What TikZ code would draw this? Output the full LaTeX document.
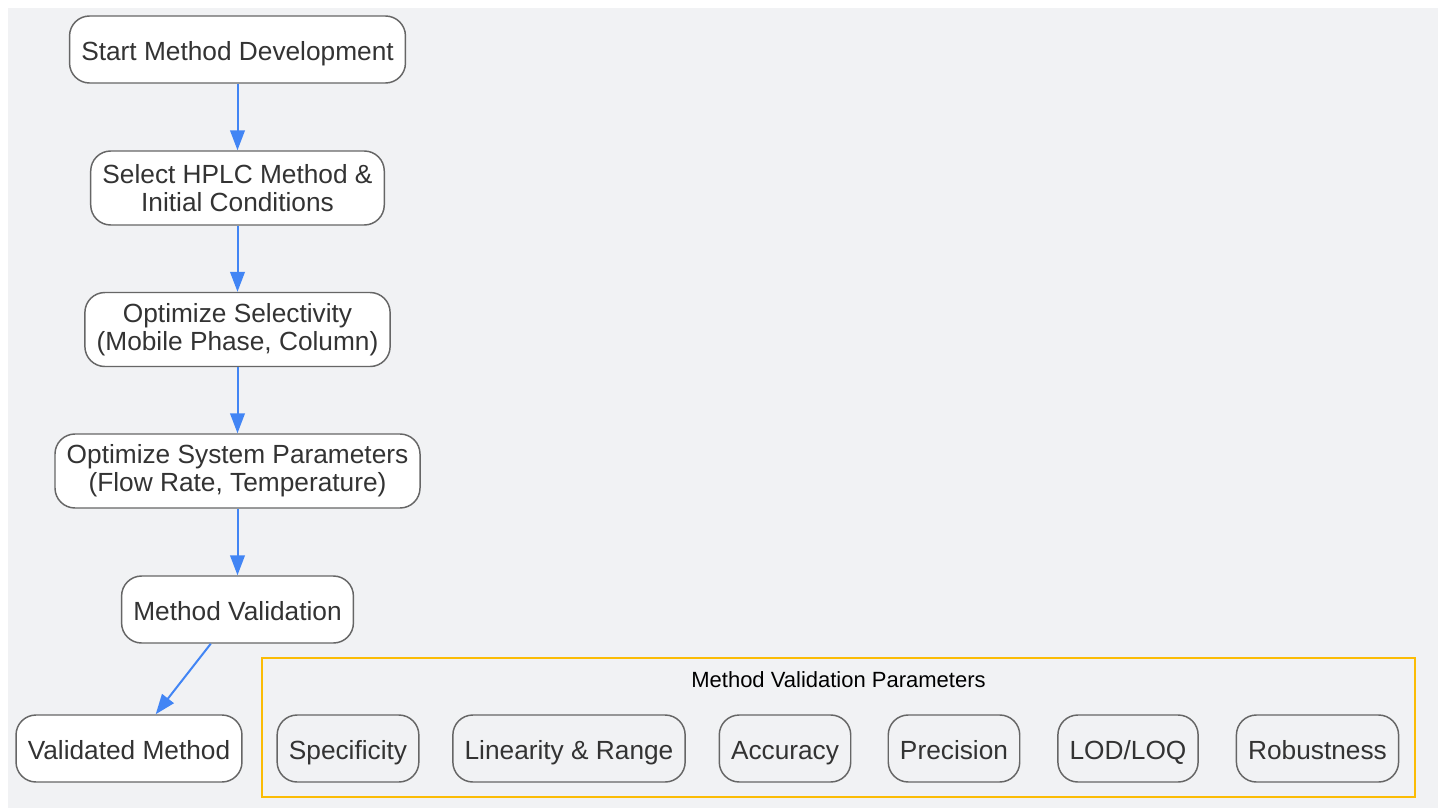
\documentclass[tikz,border=0pt]{standalone}
\usepackage{fontspec}
\setmainfont{Liberation Sans}
\usetikzlibrary{arrows.meta}
\definecolor{bgcol}{HTML}{F1F2F4}
\definecolor{edgecol}{HTML}{666666}
\definecolor{txtcol}{HTML}{333333}
\definecolor{arrcol}{HTML}{4285F4}
\definecolor{grpcol}{HTML}{FBBC05}
\begin{document}
\begin{tikzpicture}[x=0.75pt,y=-0.75pt,
    box/.style={draw=edgecol,line width=1.1pt,rounded corners=15pt,fill=white,
      text=txtcol,align=center,inner xsep=8.8pt,minimum height=50.25pt,
      text height=18pt,text depth=1pt,
      font=\fontsize{19.7}{21.3}\selectfont},
    tall/.style={box,minimum height=55.5pt,text height=,text depth=},
    param/.style={box,fill=bgcol},
    arr/.style={draw=arrcol,line width=1.5pt,-{Triangle[length=15pt,width=11pt]}}]
    \useasboundingbox (0,0) rectangle (1442,810);
    \fill[bgcol] (8,8) rectangle (1438,808);

    % main flow
    \node[box]  (S) at (237.5,49.5) {Start Method Development};
    \node[tall] (H) at (237.5,188)  {Select HPLC Method \&\\Initial Conditions};
    \node[tall] (O) at (237.5,329.5){Optimize Selectivity\\(Mobile Phase, Column)};
    \node[tall] (P) at (237.5,471)  {Optimize System Parameters\\(Flow Rate, Temperature)};
    \node[box]  (V) at (237.5,609.5){Method Validation};
    \node[box]  (D) at (129,748.5)  {Validated Method};

    \draw[arr] (S) -- (H);
    \draw[arr] (H) -- (O);
    \draw[arr] (O) -- (P);
    \draw[arr] (P) -- (V);
    \draw[arr] (V) -- (D);

    % validation parameters
    \draw[grpcol,line width=1.5pt] (262,658) rectangle (1415,797);
    \node[font=\fontsize{16.5}{19}\selectfont] (T) at (838.5,680) {Method Validation Parameters};
    \node[param] (p1) at (348,748.5)   {Specificity};
    \node[param] (p2) at (569,748.5)   {Linearity \& Range};
    \node[param] (p3) at (785,748.5)   {Accuracy};
    \node[param] (p4) at (954,748.5)   {Precision};
    \node[param] (p5) at (1128,748.5)  {LOD/LOQ};
    \node[param] (p6) at (1317.5,748.5){Robustness};
\end{tikzpicture}
\end{document}
